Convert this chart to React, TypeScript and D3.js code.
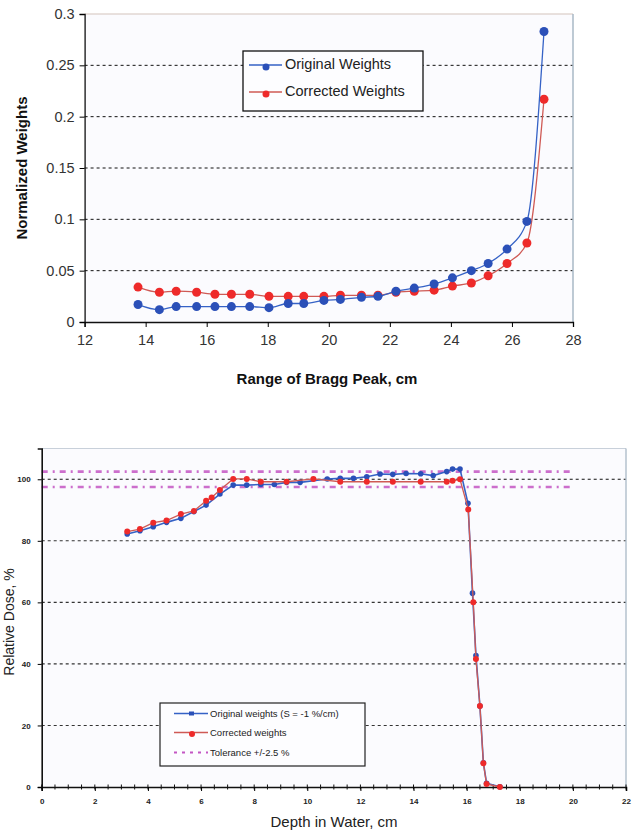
import * as d3 from 'd3';
import { useEffect, useRef } from 'react';

// top chart: normalized weights vs Bragg peak range
const braggRange = [13.75, 14.45, 15.0, 15.67, 16.27, 16.81, 17.41, 18.04, 18.67, 19.18, 19.84, 20.38, 21.07, 21.61, 22.2, 22.8, 23.45, 24.05, 24.67, 25.22, 25.84, 26.49, 27.05];
const weightsOriginal = [0.017, 0.012, 0.015, 0.015, 0.015, 0.015, 0.015, 0.014, 0.018, 0.018, 0.021, 0.022, 0.024, 0.025, 0.030, 0.033, 0.037, 0.043, 0.050, 0.057, 0.071, 0.098, 0.283];
const weightsCorrected = [0.034, 0.029, 0.030, 0.029, 0.027, 0.027, 0.027, 0.025, 0.025, 0.025, 0.025, 0.026, 0.026, 0.026, 0.029, 0.030, 0.031, 0.035, 0.038, 0.045, 0.057, 0.077, 0.217];
const weightTicks = [0, 0.05, 0.1, 0.15, 0.2, 0.25, 0.3];
const rangeTicks = [12, 14, 16, 18, 20, 22, 24, 26, 28];

// bottom chart: depth dose
const depthOriginal = [3.22, 3.7, 4.2, 4.7, 5.24, 5.73, 6.19, 6.71, 7.21, 7.72, 8.25, 8.76, 9.22, 9.73, 10.75, 11.24, 11.74, 12.24, 12.74, 13.22, 13.72, 14.27, 14.74, 15.25, 15.47, 15.75, 16.05, 16.22, 16.35, 16.5, 16.63, 16.75, 17.25];
const doseOriginal = [82.2, 83.3, 84.6, 86.0, 87.3, 89.5, 91.6, 95.2, 98.1, 98.1, 98.3, 98.3, 99.0, 99.0, 100.1, 100.3, 100.3, 100.8, 101.7, 101.6, 101.9, 101.8, 101.2, 102.5, 103.3, 103.3, 92.2, 63, 42.7, 26.3, 7.9, 1.2, 0.1];
const depthCorrected = [3.22, 3.7, 4.2, 4.7, 5.24, 5.73, 6.19, 6.4, 6.71, 7.21, 7.72, 8.25, 9.22, 10.23, 11.24, 12.24, 13.22, 14.27, 15.25, 15.47, 15.75, 16.06, 16.25, 16.35, 16.5, 16.63, 16.75, 17.25];
const doseCorrected = [83.0, 83.8, 85.9, 86.6, 88.7, 89.7, 93.0, 94.1, 96.5, 100.1, 100.1, 99.2, 99.2, 100.1, 99.2, 99.2, 99.2, 99.2, 99.2, 99.5, 100.0, 90.2, 60.0, 41.6, 26.3, 7.7, 1.0, 0.0];
const toleranceLevels = [97.5, 102.5];
const toleranceSpan = [0, 20];
const doseTicks = [0, 20, 40, 60, 80, 100];
const depthTicks = [0, 2, 4, 6, 8, 10, 12, 14, 16, 18, 20, 22];

const FONT = 'Liberation Sans, Arial, sans-serif';
const BLUE = '#2b50b8';
const BLUE_LINE = '#3562c6';
const RED = '#ee2a2a';
const RED_LINE = '#cf5a55';
const MAGENTA = '#c456c4';

const App = () => {
    const svgRef = useRef(null);

    useEffect(() => {
        const svg = d3.select(svgRef.current);
        svg.selectAll('*').remove();

        // ---------- top chart ----------
        const t = { left: 84.6, right: 573, top: 14, bottom: 322 };
        const x1 = d3.scaleLinear().domain([12, 28]).range([t.left, t.right]);
        const y1 = d3.scaleLinear().domain([0, 0.3]).range([t.bottom, t.top]);

        const top = svg.append('g');
        top.append('rect')
            .attr('x', t.left).attr('y', t.top)
            .attr('width', t.right - t.left).attr('height', t.bottom - t.top)
            .attr('fill', '#fbfbfe');

        // gridlines
        top.selectAll('line.grid')
            .data(weightTicks.filter(d => d > 0 && d < 0.3))
            .enter().append('line')
            .attr('x1', t.left).attr('x2', t.right)
            .attr('y1', d => y1(d)).attr('y2', d => y1(d))
            .attr('stroke', '#111').attr('stroke-width', 1)
            .attr('stroke-dasharray', '3,3');

        // frame (top/right light)
        top.append('line')
            .attr('x1', t.left).attr('x2', t.right).attr('y1', t.top).attr('y2', t.top)
            .attr('stroke', '#d4c4bc').attr('stroke-width', 1.2);
        top.append('line')
            .attr('x1', t.right).attr('x2', t.right).attr('y1', t.top).attr('y2', t.bottom)
            .attr('stroke', '#a9b8c6').attr('stroke-width', 1.5);

        const yAxis1 = d3.axisLeft(y1).tickValues(weightTicks).tickSize(5)
            .tickFormat(d => d === 0 ? '0' : String(d));
        top.append('g')
            .attr('transform', `translate(${t.left},0)`)
            .call(yAxis1)
            .call(g => g.select('.domain').attr('stroke', '#111').attr('stroke-width', 1.3))
            .call(g => g.selectAll('.tick text').attr('font-size', 14.5).attr('font-family', FONT).attr('fill', '#333').attr('dx', -2));

        const xAxis1 = d3.axisBottom(x1).tickValues(rangeTicks).tickSize(5);
        top.append('g')
            .attr('transform', `translate(0,${t.bottom})`)
            .call(xAxis1)
            .call(g => g.select('.domain').attr('stroke', '#111').attr('stroke-width', 1.3))
            .call(g => g.selectAll('.tick text').attr('font-size', 14.5).attr('font-family', FONT).attr('fill', '#333').attr('dy', '1.05em'));

        const line1 = (vals) => d3.line()
            .x((d, i) => x1(braggRange[i]))
            .y(d => y1(d))
            .curve(d3.curveMonotoneX)(vals);

        top.append('path').attr('d', line1(weightsCorrected))
            .attr('fill', 'none').attr('stroke', RED_LINE).attr('stroke-width', 1.3);
        top.selectAll('circle.corr')
            .data(weightsCorrected).enter().append('circle')
            .attr('cx', (d, i) => x1(braggRange[i])).attr('cy', d => y1(d))
            .attr('r', 4.5).attr('fill', RED);
        top.append('path').attr('d', line1(weightsOriginal))
            .attr('fill', 'none').attr('stroke', BLUE_LINE).attr('stroke-width', 1.3);
        top.selectAll('circle.orig')
            .data(weightsOriginal).enter().append('circle')
            .attr('cx', (d, i) => x1(braggRange[i])).attr('cy', d => y1(d))
            .attr('r', 4.5).attr('fill', BLUE);

        // legend
        const lg1 = top.append('g');
        lg1.append('rect').attr('x', 243).attr('y', 51).attr('width', 180).attr('height', 60)
            .attr('fill', '#fdfdff').attr('stroke', '#111').attr('stroke-width', 1.3);
        [['Original Weights', BLUE_LINE, BLUE, 65], ['Corrected Weights', RED_LINE, RED, 92]].forEach(([label, lc, mc, ly]) => {
            lg1.append('line').attr('x1', 249).attr('x2', 282).attr('y1', ly).attr('y2', ly)
                .attr('stroke', lc).attr('stroke-width', 1.3);
            lg1.append('circle').attr('cx', 266).attr('cy', ly + 2).attr('r', 3.5).attr('fill', mc);
            lg1.append('text').attr('x', 285).attr('y', ly + 4).text(label)
                .attr('font-size', 14.5).attr('font-family', FONT).attr('fill', '#222');
        });

        // axis titles
        top.append('text')
            .attr('transform', 'translate(27,168) rotate(-90)')
            .attr('text-anchor', 'middle')
            .attr('font-size', 15).attr('font-weight', 'bold').attr('font-family', FONT).attr('fill', '#111')
            .text('Normalized Weights');
        top.append('text')
            .attr('x', 327).attr('y', 384)
            .attr('text-anchor', 'middle')
            .attr('font-size', 15).attr('font-weight', 'bold').attr('font-family', FONT).attr('fill', '#111')
            .text('Range of Bragg Peak, cm');

        // ---------- bottom chart ----------
        const b = { left: 41.7, right: 626, top: 448.5, bottom: 787 };
        const x2 = d3.scaleLinear().domain([0, 22]).range([b.left, b.right]);
        const y2 = d3.scaleLinear().domain([0, 110]).range([b.bottom, b.top]);

        const bot = svg.append('g');
        bot.append('rect')
            .attr('x', b.left).attr('y', b.top)
            .attr('width', b.right - b.left).attr('height', b.bottom - b.top)
            .attr('fill', '#fbfbfe');

        bot.selectAll('line.grid')
            .data(doseTicks.filter(d => d > 0))
            .enter().append('line')
            .attr('x1', b.left).attr('x2', b.right)
            .attr('y1', d => y2(d)).attr('y2', d => y2(d))
            .attr('stroke', d => d === 100 ? '#111' : '#333').attr('stroke-width', 1.1)
            .attr('stroke-dasharray', '3,3');

        bot.selectAll('line.tol')
            .data(toleranceLevels)
            .enter().append('line')
            .attr('x1', x2(toleranceSpan[0])).attr('x2', x2(toleranceSpan[1]))
            .attr('y1', d => y2(d)).attr('y2', d => y2(d))
            .attr('stroke', MAGENTA).attr('stroke-width', 2.6).attr('opacity', 0.85)
            .attr('stroke-dasharray', '6,5,2,5');

        bot.append('line')
            .attr('x1', b.left).attr('x2', b.right).attr('y1', b.top).attr('y2', b.top)
            .attr('stroke', '#c8d0da').attr('stroke-width', 1.2);
        bot.append('line')
            .attr('x1', b.right).attr('x2', b.right).attr('y1', b.top).attr('y2', b.bottom)
            .attr('stroke', '#a9b8c6').attr('stroke-width', 1.3);

        const yAxis2 = d3.axisLeft(y2).tickValues(doseTicks).tickSize(4);
        bot.append('g')
            .attr('transform', `translate(${b.left},0)`)
            .call(yAxis2)
            .call(g => g.select('.domain').attr('stroke', '#111').attr('stroke-width', 1.6))
            .call(g => g.selectAll('.tick text').attr('font-size', 8).attr('font-weight', 'bold').attr('font-family', FONT).attr('fill', '#222').attr('dx', -4));

        // minor ticks every 0.5 cm crossing the axis
        bot.selectAll('line.minor')
            .data(d3.range(0, 22.01, 0.5))
            .enter().append('line')
            .attr('x1', d => x2(d)).attr('x2', d => x2(d))
            .attr('y1', b.bottom - 2.5).attr('y2', b.bottom + 2.5)
            .attr('stroke', '#111').attr('stroke-width', 1);

        const xAxis2 = d3.axisBottom(x2).tickValues(depthTicks).tickSize(4);
        bot.append('g')
            .attr('transform', `translate(0,${b.bottom})`)
            .call(xAxis2)
            .call(g => g.select('.domain').attr('stroke', '#111').attr('stroke-width', 1.6))
            .call(g => g.selectAll('.tick text').attr('font-size', 8).attr('font-weight', 'bold').attr('font-family', FONT).attr('fill', '#222').attr('dy', '1.3em'));

        const line2 = (xs, ys) => d3.line()
            .x((d, i) => x2(xs[i]))
            .y(d => y2(d))(ys);

        bot.append('path').attr('d', line2(depthOriginal, doseOriginal))
            .attr('fill', 'none').attr('stroke', BLUE_LINE).attr('stroke-width', 1.6);
        bot.selectAll('circle.orig')
            .data(doseOriginal).enter().append('circle')
            .attr('cx', (d, i) => x2(depthOriginal[i])).attr('cy', d => y2(d))
            .attr('r', 2.8).attr('fill', BLUE);
        bot.append('path').attr('d', line2(depthCorrected, doseCorrected))
            .attr('fill', 'none').attr('stroke', RED_LINE).attr('stroke-width', 1.3);
        bot.selectAll('circle.corr')
            .data(doseCorrected).enter().append('circle')
            .attr('cx', (d, i) => x2(depthCorrected[i])).attr('cy', d => y2(d))
            .attr('r', 3).attr('fill', RED);

        // legend
        const lg2 = bot.append('g');
        lg2.append('rect').attr('x', 160).attr('y', 703).attr('width', 205).attr('height', 63)
            .attr('fill', '#fdfdff').attr('stroke', '#222').attr('stroke-width', 1.2);
        lg2.append('line').attr('x1', 174).attr('x2', 208).attr('y1', 713.5).attr('y2', 713.5)
            .attr('stroke', BLUE_LINE).attr('stroke-width', 1.3);
        lg2.append('rect').attr('x', 189).attr('y', 711.5).attr('width', 5).attr('height', 4).attr('fill', BLUE);
        lg2.append('line').attr('x1', 174).attr('x2', 208).attr('y1', 732.5).attr('y2', 732.5)
            .attr('stroke', RED_LINE).attr('stroke-width', 1.3);
        lg2.append('circle').attr('cx', 192).attr('cy', 734).attr('r', 3).attr('fill', RED);
        lg2.append('line').attr('x1', 174).attr('x2', 208).attr('y1', 752.5).attr('y2', 752.5)
            .attr('stroke', MAGENTA).attr('stroke-width', 2).attr('stroke-dasharray', '3,5');
        [['Original weights (S = -1 %/cm)', 716.5], ['Corrected weights', 736], ['Tolerance +/-2.5 %', 756]].forEach(([label, ly]) => {
            lg2.append('text').attr('x', 210).attr('y', ly).text(label)
                .attr('font-size', 9.5).attr('font-family', FONT).attr('fill', '#222');
        });

        bot.append('text')
            .attr('transform', 'translate(14,622) rotate(-90)')
            .attr('text-anchor', 'middle')
            .attr('font-size', 14).attr('font-family', FONT).attr('fill', '#222')
            .text('Relative Dose, %');
        bot.append('text')
            .attr('x', 334).attr('y', 827)
            .attr('text-anchor', 'middle')
            .attr('font-size', 15).attr('font-family', FONT).attr('fill', '#222')
            .text('Depth in Water, cm');
    }, []);

    return (
        <svg ref={svgRef} width="637" height="831"
            style={{ position: 'absolute', left: 0, top: 0, background: '#fff' }}></svg>
    );
};

export default App;
